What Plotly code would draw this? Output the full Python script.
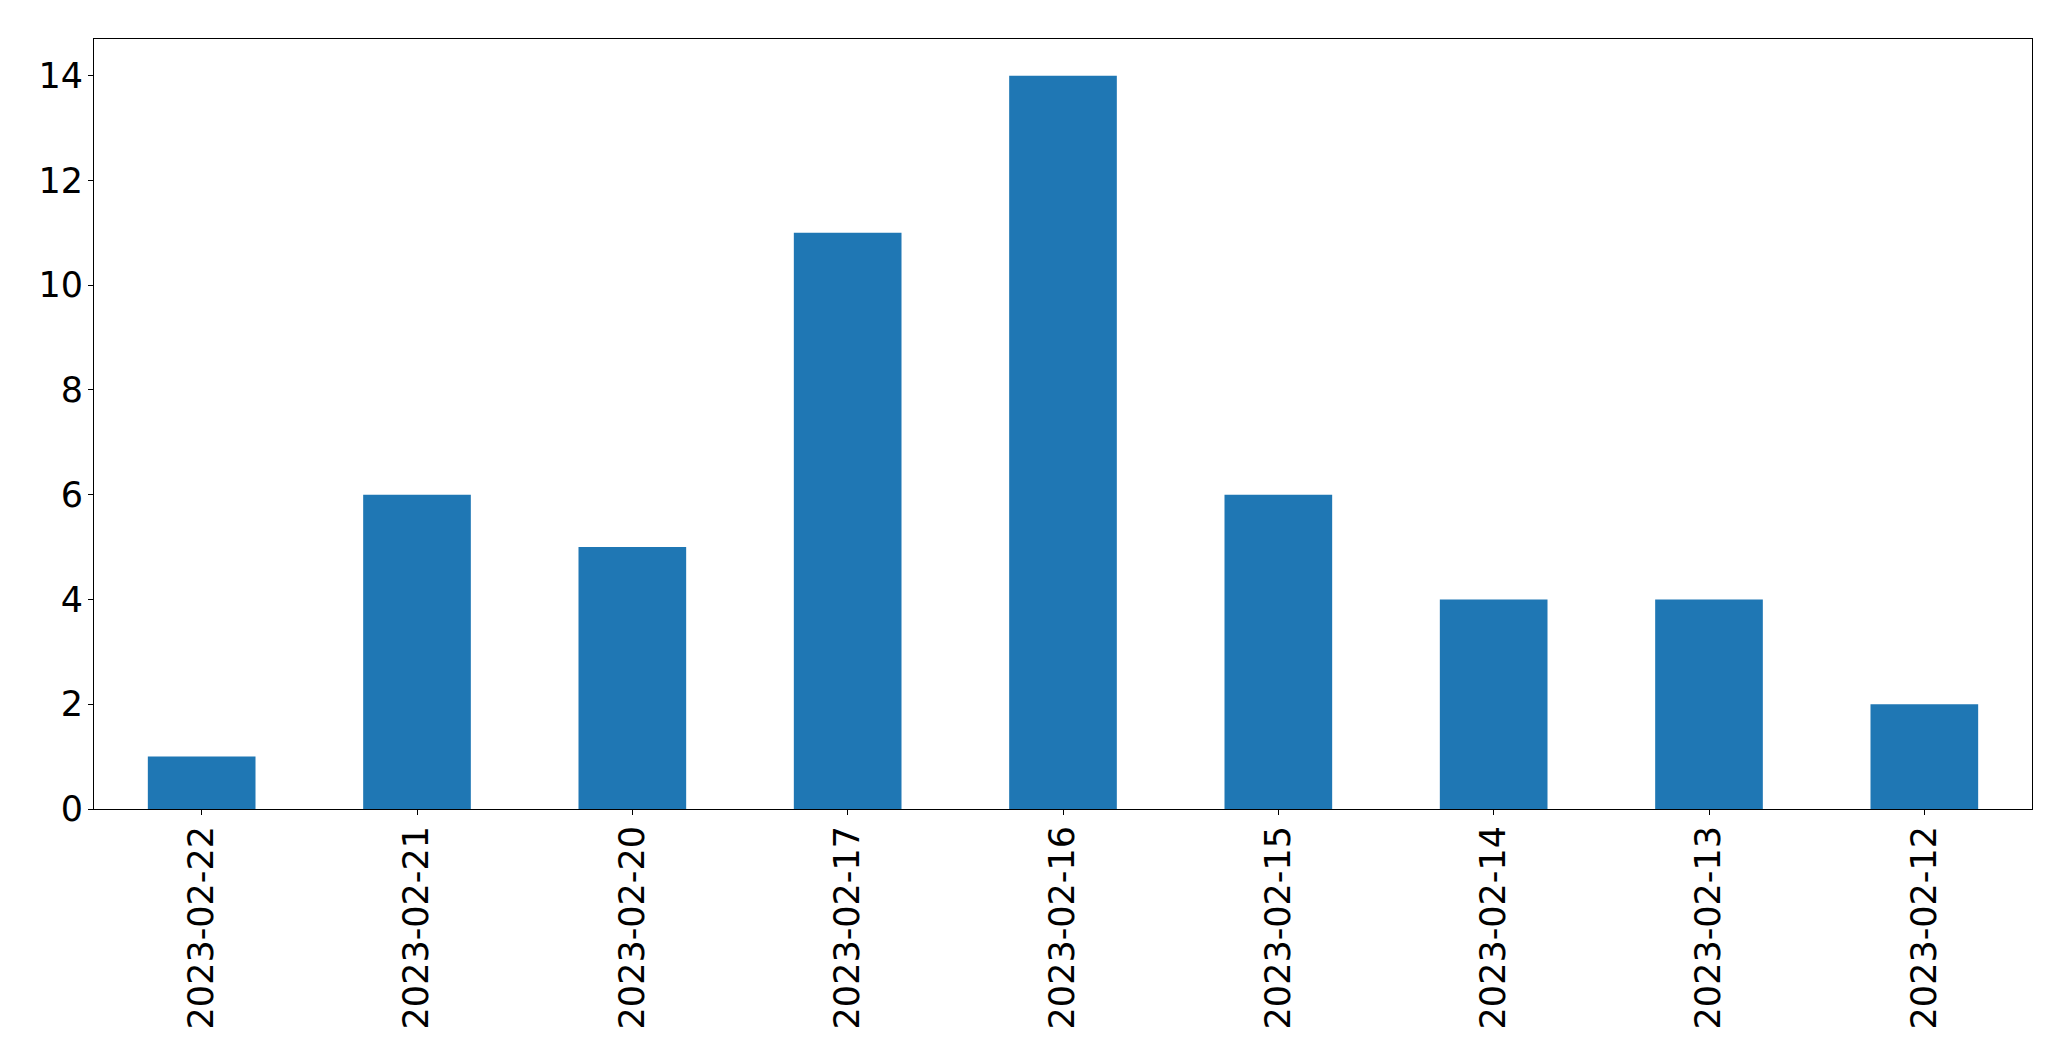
import plotly.graph_objects as go

dates = ["2023-02-22", "2023-02-21", "2023-02-20", "2023-02-17", "2023-02-16",
         "2023-02-15", "2023-02-14", "2023-02-13", "2023-02-12"]
counts = [1, 6, 5, 11, 14, 6, 4, 4, 2]
y_ticks = [0, 2, 4, 6, 8, 10, 12, 14]

fig = go.Figure(go.Bar(x=dates, y=counts, marker=dict(color="#1f77b4", line=dict(width=0))))

font = dict(family="DejaVu Sans", size=35, color="black")
fig.update_layout(
    width=2063, height=1053,
    margin=dict(l=86, r=39, t=31, b=252, autoexpand=False),
    paper_bgcolor="white", plot_bgcolor="white",
    bargap=0.5, showlegend=False, font=font,
)
fig.update_xaxes(
    type="category", range=[-0.5, len(dates) - 0.5],
    showline=True, mirror=True, linecolor="black", linewidth=1,
    ticks="outside", ticklen=5, tickwidth=1, tickcolor="black",
    tickangle=-90, tickfont=font, showgrid=False, zeroline=False,
    ticklabelstandoff=-3,
)
fig.update_yaxes(
    range=[0, 14.7], tickvals=y_ticks,
    showline=True, mirror=True, linecolor="black", linewidth=1,
    ticks="outside", ticklen=5, tickwidth=1, tickcolor="black",
    tickfont=font, showgrid=False, zeroline=False,
    ticklabelstandoff=-2,
)
fig.write_html("out.html")
